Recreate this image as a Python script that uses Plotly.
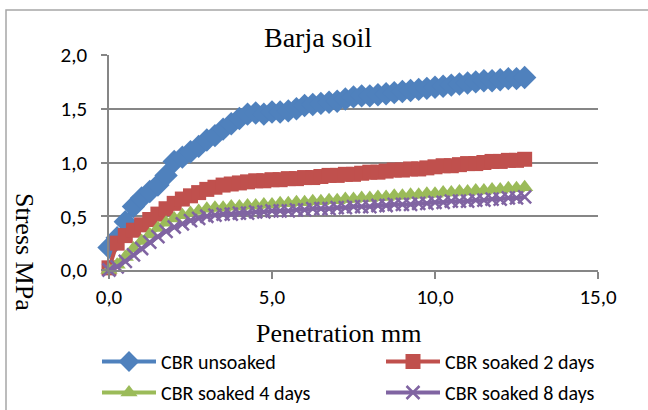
import plotly.graph_objects as go

penetration = [0.00, 0.25, 0.50, 0.75, 1.00, 1.25, 1.50, 1.75, 2.00, 2.25, 2.50, 2.75, 3.00,
               3.25, 3.50, 3.75, 4.00, 4.25, 4.50, 4.75, 5.00, 5.25, 5.50, 5.75, 6.00, 6.25,
               6.50, 6.75, 7.00, 7.25, 7.50, 7.75, 8.00, 8.25, 8.50, 8.75, 9.00, 9.25, 9.50,
               9.75, 10.00, 10.25, 10.50, 10.75, 11.00, 11.25, 11.50, 11.75, 12.00, 12.25,
               12.50, 12.75]

unsoaked = [0.21, 0.30, 0.45, 0.59, 0.67, 0.73, 0.79, 0.88, 1.01, 1.05, 1.10, 1.15, 1.21,
            1.25, 1.31, 1.36, 1.41, 1.45, 1.46, 1.45, 1.47, 1.47, 1.48, 1.50, 1.53, 1.54,
            1.55, 1.56, 1.57, 1.59, 1.61, 1.62, 1.62, 1.63, 1.64, 1.65, 1.66, 1.67, 1.68,
            1.69, 1.70, 1.71, 1.72, 1.73, 1.74, 1.75, 1.76, 1.76, 1.77, 1.78, 1.78, 1.79]

soaked2 = [0.02, 0.25, 0.32, 0.37, 0.42, 0.47, 0.52, 0.57, 0.62, 0.66, 0.69, 0.72, 0.75,
           0.77, 0.79, 0.80, 0.81, 0.82, 0.83, 0.83, 0.84, 0.84, 0.85, 0.85, 0.86, 0.86,
           0.87, 0.88, 0.88, 0.89, 0.89, 0.90, 0.91, 0.91, 0.92, 0.93, 0.93, 0.94, 0.94,
           0.95, 0.96, 0.97, 0.97, 0.98, 0.99, 0.99, 1.00, 1.01, 1.01, 1.02, 1.02, 1.03]

soaked4 = [0.00, 0.05, 0.12, 0.20, 0.27, 0.33, 0.39, 0.44, 0.48, 0.51, 0.53, 0.55, 0.57,
           0.58, 0.58, 0.59, 0.59, 0.60, 0.60, 0.61, 0.61, 0.62, 0.62, 0.63, 0.63, 0.64,
           0.64, 0.65, 0.65, 0.66, 0.66, 0.67, 0.67, 0.68, 0.68, 0.69, 0.69, 0.70, 0.70,
           0.71, 0.71, 0.72, 0.72, 0.73, 0.73, 0.74, 0.74, 0.75, 0.75, 0.76, 0.76, 0.77]

soaked8 = [0.00, 0.03, 0.08, 0.14, 0.20, 0.26, 0.31, 0.36, 0.40, 0.43, 0.46, 0.48, 0.50,
           0.51, 0.52, 0.52, 0.53, 0.53, 0.54, 0.54, 0.55, 0.55, 0.55, 0.56, 0.56, 0.57,
           0.57, 0.57, 0.58, 0.58, 0.59, 0.59, 0.59, 0.60, 0.60, 0.61, 0.61, 0.61, 0.62,
           0.62, 0.63, 0.63, 0.64, 0.64, 0.64, 0.65, 0.65, 0.66, 0.66, 0.67, 0.67, 0.68]

series_names = ["CBR unsoaked", "CBR soaked 2 days", "CBR soaked 4 days", "CBR soaked 8 days"]
x_tick_vals = [0, 5, 10, 15]
x_tick_text = ["0,0", "5,0", "10,0", "15,0"]
y_tick_vals = [0, 0.5, 1.0, 1.5, 2.0]
y_tick_text = ["0,0", "0,5", "1,0", "1,5", "2,0"]

colors = ["#4F81BD", "#C0504D", "#9BBB59", "#8064A2"]
symbols = ["diamond", "square", "triangle-up", "x-thin"]
sizes = [18, 15, 15, 13]
legends = ["legend", "legend2", "legend", "legend2"]

# plot area in pixels
W, H = 648, 410
L, R, T, B = 109, 50, 55, 140
PW, PH = W - L - R, H - T - B


def px(xp):
    return (xp - L) / PW


def py(yp):
    return (H - B - yp) / PH


fig = go.Figure()
for i, (name, ys, c, s, sz, lg) in enumerate(zip(series_names, [unsoaked, soaked2, soaked4, soaked8],
                                                  colors, symbols, sizes, legends)):
    marker = dict(symbol=s, size=sz, color=c)
    if s == "x-thin":
        marker["line"] = dict(color=c, width=2.5)
    fig.add_trace(go.Scatter(x=penetration, y=ys, name=name, mode="lines+markers",
                             line=dict(color=c, width=4), marker=marker, cliponaxis=False,
                             legend=lg, legendgroup=name))

serif = "Liberation Serif, Times New Roman, serif"
sans = "Carlito, Liberation Sans, Arial, sans-serif"

legend_common = dict(orientation="v", xref="paper", yref="paper", xanchor="left", yanchor="top",
                     itemwidth=54, tracegroupgap=2, bgcolor="rgba(0,0,0,0)",
                     font=dict(family=sans, size=20, color="black"))

fig.update_layout(
    width=W, height=H,
    margin=dict(l=L, r=R, t=T, b=B, autoexpand=False),
    paper_bgcolor="white", plot_bgcolor="white",
    title=dict(text="Barja soil", x=318 / W, xref="container", xanchor="center",
               y=1 - 37 / H, yref="container", yanchor="middle",
               font=dict(family=serif, size=28, color="black")),
    showlegend=True,
    legend=dict(x=px(97), y=py(342), **legend_common),
    legend2=dict(x=px(381), y=py(342), **legend_common),
    xaxis=dict(range=[0, 15], tickvals=x_tick_vals, ticktext=x_tick_text, automargin=False,
               showgrid=False, zeroline=False, showline=True, linecolor="#868686", linewidth=1.5,
               ticks="outside", ticklen=7, tickcolor="#868686", tickwidth=1.5,
               tickfont=dict(family=sans, size=21, color="black")),
    yaxis=dict(range=[0, 2.0], tickvals=y_tick_vals, ticktext=y_tick_text, automargin=False,
               showgrid=True, gridcolor="#868686", gridwidth=1.5,
               zeroline=False, showline=True, linecolor="#868686", linewidth=1.5,
               ticks="outside", ticklen=6, tickcolor="#868686", tickwidth=1.5,
               ticklabelstandoff=10,
               tickfont=dict(family=sans, size=21, color="black")),
    annotations=[
        dict(text="Penetration mm", x=px(338), y=py(333), xref="paper", yref="paper",
             xanchor="center", yanchor="middle",
             showarrow=False, font=dict(family=serif, size=26, color="black")),
        dict(text="Stress MPa", textangle=90, x=px(25), y=py(252), xref="paper", yref="paper",
             xanchor="center", yanchor="middle",
             showarrow=False, font=dict(family=serif, size=26, color="black")),
    ],
)

fig.add_shape(type="rect", xref="paper", yref="paper",
              x0=px(6), x1=px(700), y0=py(430), y1=py(10),
              line=dict(color="#A6A6A6", width=1.5), fillcolor="rgba(0,0,0,0)", layer="above")

fig.write_html("out.html", config={"displayModeBar": False},
               post_script="document.body.style.margin='0';document.body.style.padding='0';")
